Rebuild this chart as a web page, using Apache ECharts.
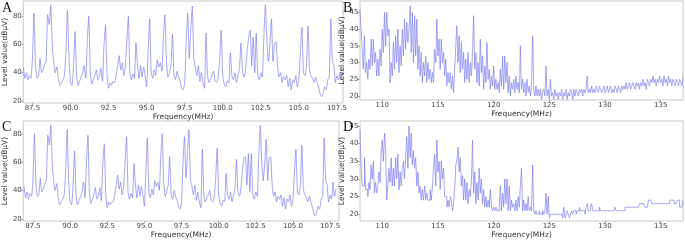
<!DOCTYPE html>
<html>
<head>
<meta charset="utf-8">
<script src="https://cdn.jsdelivr.net/npm/echarts@6/dist/echarts.min.js"></script>
<style>
  html, body { margin: 0; padding: 0; background: #fff; }
  #chart { width: 685px; height: 240px; }
</style>
</head>
<body>
<div id="chart"></div>
<script>
// FM band scans (A, C) start at 86.9 MHz, 0.1 MHz per sample
const fmStart = 86.9;
const fmStep = 0.1;
const levelA = [
  44, 36, 40, 35, 38, 36, 50, 82, 45, 36,
  38, 50, 40, 42, 46, 48, 81, 74, 88, 60,
  47, 40, 44, 36, 31, 33, 35, 38, 55, 84,
  50, 33, 31, 45, 69, 38, 31, 34, 37, 40,
  45, 36, 62, 80, 40, 32, 35, 38, 42, 35,
  37, 43, 34, 60, 74, 38, 29, 33, 31, 34,
  33, 38, 45, 52, 42, 47, 38, 44, 62, 80,
  40, 35, 39, 36, 61, 45, 36, 45, 37, 44,
  38, 30, 55, 78, 40, 36, 42, 38, 49, 44,
  47, 41, 64, 81, 48, 37, 40, 45, 67, 38,
  35, 41, 37, 34, 29, 28, 33, 62, 82, 50,
  70, 87, 50, 44, 38, 45, 34, 40, 33, 29,
  68, 38, 33, 36, 38, 41, 34, 33, 37, 50,
  70, 38, 32, 30, 34, 33, 54, 38, 35, 40,
  33, 38, 43, 61, 40, 37, 42, 55, 65, 70,
  45, 65, 40, 68, 38, 35, 40, 37, 65, 88,
  62, 48, 60, 78, 48, 60, 62, 45, 37, 40,
  33, 37, 35, 38, 30, 36, 28, 35, 33, 38,
  30, 35, 55, 72, 40, 38, 45, 73, 42, 38,
  36, 33, 37, 33, 30, 25, 23, 26, 30, 28,
  35, 37, 78, 48, 45, 33, 38, 35, 40, 38,
  40
];
const levelC = [
  43, 35, 39, 34, 38, 36, 48, 80, 44, 36,
  37, 49, 39, 41, 45, 47, 79, 72, 86, 58,
  46, 40, 45, 35, 30, 32, 34, 37, 54, 83,
  48, 32, 30, 44, 68, 37, 30, 33, 36, 39,
  46, 35, 60, 79, 39, 31, 34, 37, 42, 34,
  36, 42, 33, 59, 73, 37, 28, 32, 30, 32,
  32, 37, 44, 51, 41, 46, 37, 43, 60, 78,
  39, 34, 38, 35, 59, 44, 35, 44, 36, 43,
  37, 29, 54, 77, 39, 35, 41, 37, 47, 43,
  46, 40, 63, 80, 47, 36, 39, 44, 64, 37,
  34, 40, 36, 33, 29, 27, 32, 60, 78, 49,
  66, 83, 48, 43, 37, 44, 33, 39, 32, 28,
  69, 37, 32, 35, 37, 40, 33, 32, 36, 49,
  70, 37, 31, 29, 33, 32, 52, 37, 34, 39,
  32, 37, 42, 62, 39, 36, 41, 54, 63, 64,
  44, 66, 39, 66, 37, 34, 39, 36, 64, 86,
  60, 47, 59, 76, 47, 63, 64, 44, 36, 39,
  32, 36, 34, 37, 29, 35, 27, 34, 32, 37,
  29, 34, 53, 69, 39, 37, 44, 72, 41, 37,
  35, 32, 36, 32, 29, 24, 22, 25, 29, 27,
  34, 36, 77, 47, 44, 32, 37, 34, 46, 36,
  41
];

// 108-137 MHz scans (B, D), 0.1 MHz per sample
const airStart = 108.0;
const airStep = 0.1;
const levelB = [
  46, 40, 34, 28, 38, 27, 30, 25, 31, 28,
  37, 29, 37, 30, 33, 26, 31, 26, 34, 29,
  40, 33, 45, 35, 45, 38, 40, 24, 30, 26,
  36, 28, 38, 30, 40, 27, 35, 29, 40, 32,
  43, 34, 42, 36, 40, 47, 33, 45, 30, 44,
  32, 43, 28, 35, 26, 33, 24, 30, 26, 32,
  24, 30, 25, 28, 24, 27, 24, 34, 30, 43,
  32, 37, 28, 37, 30, 33, 26, 31, 23, 27,
  24, 27, 22, 26, 21, 28, 35, 41, 30, 38,
  27, 36, 28, 33, 24, 31, 25, 33, 24, 30,
  26, 33, 44, 28, 33, 24, 30, 23, 37, 27,
  32, 22, 29, 24, 36, 25, 28, 22, 26, 23,
  29, 22, 25, 22, 24, 21, 28, 23, 32, 22,
  32, 24, 30, 21, 26, 20, 24, 22, 25, 21,
  26, 22, 24, 21, 35, 22, 25, 21, 24, 20,
  25, 21, 23, 20, 24, 38, 22, 20, 23, 20,
  22, 20, 22, 19, 21, 22, 20, 29, 20, 22,
  19, 25, 20, 21, 19, 22, 20, 21, 19, 21,
  20, 22, 19, 21, 20, 22, 19, 21, 20, 22,
  21, 19, 22, 20, 22, 21, 20, 22, 21, 22,
  20, 22, 21, 22, 26, 21, 22, 21, 23, 21,
  22, 21, 23, 22, 21, 23, 22, 21, 22, 23,
  21, 22, 23, 21, 22, 23, 21, 22, 21, 23,
  22, 21, 23, 22, 21, 23, 22, 23, 22, 24,
  22, 23, 24, 22, 23, 24, 23, 22, 24, 23,
  24, 22, 24, 23, 25, 23, 24, 22, 25, 24,
  23, 25, 24, 26, 24, 25, 23, 25, 24, 26,
  24, 25, 23, 26, 24, 25, 23, 26, 24, 25,
  23, 25, 24, 23, 25, 24, 23, 25, 24, 23,
  26
];
const levelD = [
  44, 33, 28, 28, 36, 27, 27, 25, 29, 27,
  34, 30, 35, 26, 29, 26, 28, 32, 29, 37,
  41, 35, 43, 38, 24, 28, 33, 29, 36, 28,
  33, 28, 36, 30, 37, 27, 32, 28, 33, 35,
  30, 36, 42, 33, 45, 36, 43, 34, 38, 33,
  36, 28, 32, 26, 28, 24, 27, 24, 28, 24,
  26, 24, 24, 27, 24, 28, 33, 37, 28, 41,
  32, 35, 27, 35, 30, 33, 25, 25, 22, 24,
  22, 25, 24, 21, 23, 27, 34, 35, 39, 32,
  36, 28, 31, 24, 30, 24, 29, 23, 27, 25,
  29, 41, 26, 32, 23, 29, 24, 33, 26, 30,
  23, 27, 22, 25, 22, 24, 22, 27, 22, 21,
  22, 21, 22, 21, 21, 22, 28, 21, 26, 22,
  30, 23, 30, 21, 28, 21, 24, 22, 23, 21,
  24, 21, 25, 22, 28, 33, 21, 24, 21, 23,
  21, 25, 21, 22, 21, 34, 21, 20, 21, 20,
  20, 21, 20, 20, 21, 20, 21, 26, 20, 25,
  19, 20, 20, 20, 20, 20, 20, 20, 20, 20,
  20, 20, 19, 22, 19, 20, 21, 20, 19, 20,
  21, 20, 21, 21, 20, 21, 21, 22, 21, 21,
  21, 21, 20, 22, 23, 21, 21, 22, 23, 21,
  21, 21, 21, 21, 21, 22, 21, 21, 21, 21,
  21, 21, 21, 21, 21, 21, 21, 21, 21, 22,
  21, 21, 21, 21, 21, 21, 21, 21, 22, 22,
  22, 22, 22, 22, 22, 22, 22, 22, 22, 22,
  22, 23, 23, 23, 23, 23, 22, 22, 22, 24,
  24, 24, 23, 23, 23, 23, 23, 23, 23, 23,
  23, 23, 23, 23, 23, 23, 23, 23, 24, 24,
  24, 24, 23, 23, 23, 24, 24, 22, 22, 22,
  24
];

const fmTicks = [87.5, 90, 92.5, 95, 97.5, 100, 102.5, 105, 107.5];
const airTicks = [110, 115, 120, 125, 130, 135];
const fmLevelTicks = [20, 40, 60, 80];
const airLevelTicks = [20, 25, 30, 35, 40, 45];
const panelLetters = ['A', 'B', 'C', 'D'];

const lineColor = '#7272f2';
const textColor = '#444';
const yName = 'Level value(dBμV)';
const xName = 'Frequency(MHz)';

function toPairs(start, step, values) {
  return values.map((v, i) => [+(start + i * step).toFixed(2), v]);
}

const grids = [
  { left: 16, top: 1, width: 327, height: 102 },
  { left: 360, top: 1, width: 323, height: 99 },
  { left: 16, top: 121, width: 323, height: 103 },
  { left: 360, top: 121, width: 323, height: 103 }
];

function xAxis(gridIndex, min, max, ticks, digits) {
  return {
    type: 'value', gridIndex, min, max,
    name: xName, nameLocation: 'middle', nameGap: 10,
    nameTextStyle: { fontSize: 7.5, color: '#333', fontFamily: 'DejaVu Sans' },
    axisLine: { show: false },
    axisTick: { show: true, customValues: ticks, length: 2, lineStyle: { color: '#aaa' } },
    axisLabel: {
      customValues: ticks, fontSize: 7, color: textColor, margin: 2, fontFamily: 'DejaVu Sans',
      formatter: v => v.toFixed(digits)
    },
    splitLine: { show: false }
  };
}

function yAxis(gridIndex, min, max, ticks) {
  return {
    type: 'value', gridIndex, min, max,
    name: yName, nameLocation: 'middle', nameGap: 11, nameRotate: 90,
    nameTextStyle: { fontSize: 7.5, color: '#333', fontFamily: 'DejaVu Sans' },
    axisLine: { show: false },
    axisTick: { show: true, customValues: ticks, length: 2, lineStyle: { color: '#aaa' } },
    axisLabel: { customValues: ticks, fontSize: 7, color: textColor, margin: 1.5, fontFamily: 'DejaVu Sans' },
    splitLine: { show: false }
  };
}

function series(i, start, step, values, stepLine) {
  return {
    type: 'line', xAxisIndex: i, yAxisIndex: i,
    data: toPairs(start, step, values),
    showSymbol: false, step: stepLine ? 'end' : false,
    smooth: stepLine ? false : 0.15,
    lineStyle: { color: lineColor, width: 0.8, opacity: 0.8 },
    silent: true
  };
}

const chart = echarts.init(document.getElementById('chart'), null, { renderer: 'canvas' });
chart.setOption({
  animation: false,
  backgroundColor: '#fff',
  grid: grids.map(g => Object.assign({ show: true, borderColor: '#c8c8c8', borderWidth: 1, backgroundColor: 'transparent' }, g)),
  xAxis: [
    xAxis(0, 86.9, 107.9, fmTicks, 1),
    xAxis(1, 108, 137, airTicks, 0),
    xAxis(2, 86.85, 108.1, fmTicks, 1),
    xAxis(3, 108, 137, airTicks, 0)
  ],
  yAxis: [
    yAxis(0, 18.6, 90.6, fmLevelTicks),
    yAxis(1, 18.8, 48.4, airLevelTicks),
    yAxis(2, 18.6, 89, fmLevelTicks),
    yAxis(3, 18.1, 46.4, airLevelTicks)
  ],
  series: [
    series(0, fmStart, fmStep, levelA, false),
    series(1, airStart, airStep, levelB, false),
    series(2, fmStart, fmStep, levelC, false),
    series(3, airStart, airStep, levelD, true)
  ],
  graphic: panelLetters.map((t, i) => ({
    type: 'text',
    left: i % 2 === 0 ? 2 : 343,
    top: i < 2 ? 1 : 120,
    style: { text: t, font: '14px "Liberation Serif", serif', fill: '#111' },
    z: 100
  }))
});
</script>
</body>
</html>
